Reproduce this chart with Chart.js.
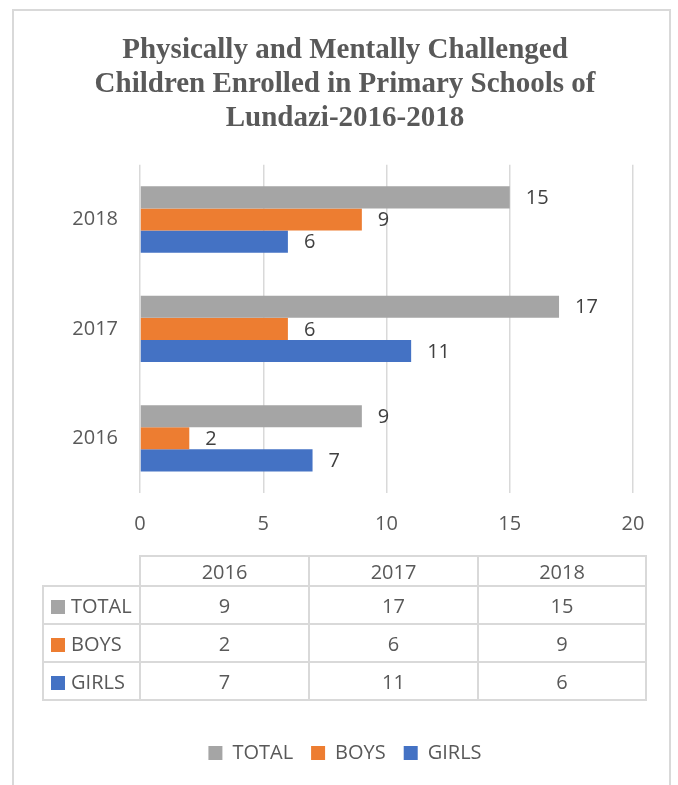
<!DOCTYPE html>
<html>
<head>
<meta charset="utf-8">
<script src="https://cdn.jsdelivr.net/npm/chart.js@4.4.0/dist/chart.umd.min.js"></script>
<style>
  html, body { margin: 0; padding: 0; background: #fff; }
  body { width: 678px; height: 785px; position: relative; overflow: hidden; }
  #frame {
    position: absolute; left: 12px; top: 9px; width: 659px; height: 800px;
    border: 2px solid #d9d9d9; box-sizing: border-box;
  }
  #chartWrap { position: absolute; left: 0; top: 0; width: 678px; height: 785px; }
  #dataTable {
    position: absolute; left: 42px; top: 555px;
    border-collapse: collapse; table-layout: fixed;
    font-family: "Open Sans", sans-serif; font-size: 20px; color: #595959;
  }
  #dataTable td { border: 2px solid #d9d9d9; text-align: center; padding: 0; }
  #dataTable tr.head td { height: 28px; }
  #dataTable tr.body td { height: 36px; }
  #dataTable td.corner { border: none; }
  #dataTable td.rowLabel { text-align: left; white-space: nowrap; }
  .swatch {
    display: inline-block; width: 14px; height: 14px;
    margin: 0 6px 0 7px; vertical-align: -1px;
  }
</style>
</head>
<body>
<div id="frame"></div>
<div id="chartWrap"><canvas id="enrolChart" width="678" height="785"></canvas></div>
<table id="dataTable"></table>

<script>
// Anak berkebutuhan khusus di SD Lundazi, 2016-2018.
const YEARS        = ['2016', '2017', '2018'];
const SERIES_NAMES = ['TOTAL', 'BOYS', 'GIRLS'];
const TOTAL_VALUES = [9, 17, 15];
const BOYS_VALUES  = [2, 6, 9];
const GIRLS_VALUES = [7, 11, 6];
const X_TICKS      = [0, 5, 10, 15, 20];

const SERIES_COLORS = ['#a5a5a5', '#ed7d31', '#4472c4'];
const SERIES_VALUES = [TOTAL_VALUES, BOYS_VALUES, GIRLS_VALUES];
const TEXT_COLOR = '#595959';

// label angka di ujung kanan tiap bar
const barValueLabels = {
    id: 'barValueLabels',
    afterDatasetsDraw(chart) {
        const ctx = chart.ctx;
        ctx.save();
        ctx.font = '20px "Open Sans", sans-serif';
        ctx.fillStyle = '#404040';
        ctx.textAlign = 'left';
        ctx.textBaseline = 'middle';
        chart.data.datasets.forEach((ds, i) => {
            chart.getDatasetMeta(i).data.forEach((bar, j) => {
                ctx.fillText(String(ds.data[j]), bar.x + 16, bar.y + 1);
            });
        });
        ctx.restore();
    }
};

function buildTable() {
    const table = document.getElementById('dataTable');
    let html = '<colgroup><col style="width:97px"><col style="width:169px"><col style="width:169px"><col style="width:168px"></colgroup>';
    html += '<tr class="head"><td class="corner"></td>' + YEARS.map(y => `<td>${y}</td>`).join('') + '</tr>';
    SERIES_NAMES.forEach((name, i) => {
        html += `<tr class="body"><td class="rowLabel"><span class="swatch" style="background:${SERIES_COLORS[i]}"></span>${name}</td>`
              + SERIES_VALUES[i].map(v => `<td>${v}</td>`).join('') + '</tr>';
    });
    table.innerHTML = html;
}

function buildChart() {
    const canvas = document.getElementById('enrolChart');
    new Chart(canvas.getContext('2d'), {
        type: 'bar',
        data: {
            labels: YEARS,
            datasets: SERIES_NAMES.map((name, i) => ({
                label: name,
                data: SERIES_VALUES[i],
                backgroundColor: SERIES_COLORS[i],
                borderWidth: 0,
                barPercentage: 1,
                categoryPercentage: 0.606
            }))
        },
        options: {
            indexAxis: 'y',
            responsive: false,
            animation: false,
            // padding kiri 57 supaya judul & legend center di x≈345
            layout: { padding: { top: 0, left: 57, right: 45, bottom: 12 } },
            plugins: {
                title: {
                    display: true,
                    text: ['Physically and Mentally Challenged',
                           'Children Enrolled in Primary Schools of',
                           'Lundazi-2016-2018'],
                    color: TEXT_COLOR,
                    font: { family: '"Liberation Serif", serif', size: 29, weight: 'bold', lineHeight: 1.17 },
                    padding: { top: 34, bottom: 29 }
                },
                legend: {
                    position: 'bottom',
                    labels: {
                        boxWidth: 14, boxHeight: 14, padding: 18,
                        color: TEXT_COLOR,
                        font: { family: '"Open Sans", sans-serif', size: 20 }
                    }
                },
                tooltip: { enabled: false }
            },
            scales: {
                x: {
                    min: 0, max: 20,
                    afterBuildTicks: axis => { axis.ticks = X_TICKS.map(v => ({ value: v })); },
                    afterFit: axis => { axis.height = 232; },
                    grid: { color: '#d9d9d9', lineWidth: 1.5, drawTicks: false },
                    border: { display: false },
                    ticks: {
                        padding: 19, color: TEXT_COLOR,
                        font: { family: '"Open Sans", sans-serif', size: 20 }
                    }
                },
                y: {
                    reverse: true,
                    afterFit: axis => { axis.width = 83; },
                    grid: { display: false, drawTicks: false },
                    border: { display: false },
                    ticks: {
                        padding: 22, color: TEXT_COLOR,
                        font: { family: '"Open Sans", sans-serif', size: 20 }
                    }
                }
            }
        },
        plugins: [barValueLabels]
    });
}

document.addEventListener('DOMContentLoaded', () => {
    buildTable();
    buildChart();
});
</script>
</body>
</html>
